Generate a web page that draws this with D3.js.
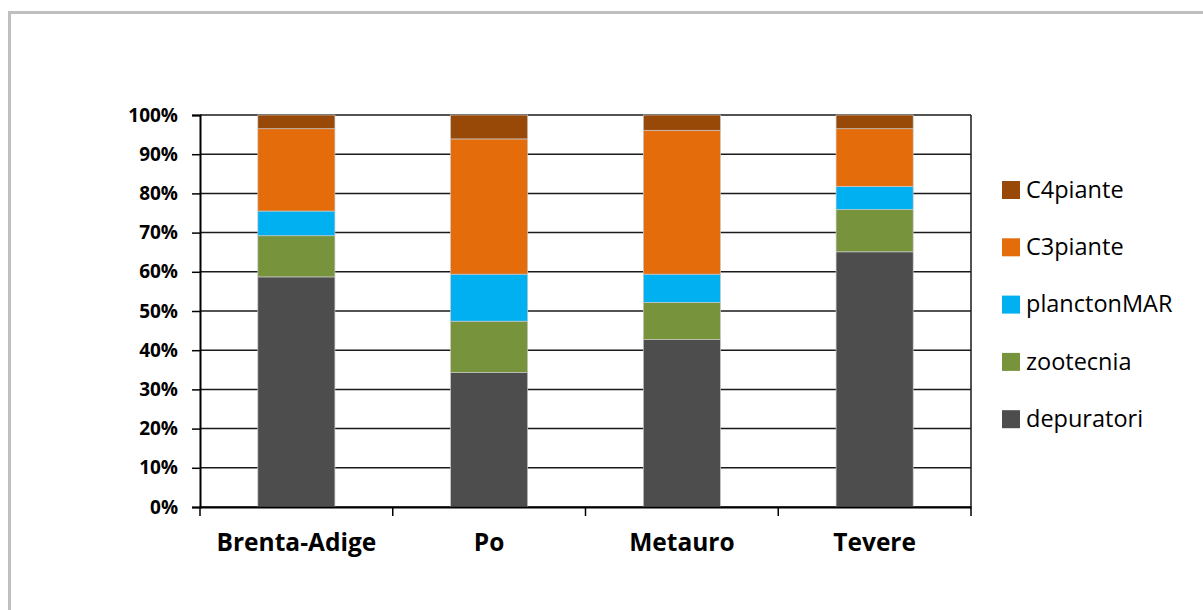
<!DOCTYPE html>
<html>
<head>
<meta charset="utf-8">
<script src="https://cdn.jsdelivr.net/npm/d3@7"></script>
<style>
  body { margin: 0; background: #fff; }
  svg { display: block; }
</style>
</head>
<body>
<svg width="1203" height="610"></svg>
<script>
const rivers = ["Brenta-Adige", "Po", "Metauro", "Tevere"];
const sources = ["depuratori", "zootecnia", "planctonMAR", "C3piante", "C4piante"];
const colors = ["#4d4d4d", "#77933c", "#00b0f0", "#e46c0a", "#984807"];

// percent shares per river, same order as sources
const depuratori = [58.7, 34.3, 42.7, 65.1];
const zootecnia = [10.5, 13.1, 9.5, 10.8];
const planctonMAR = [6.3, 12.0, 7.2, 5.9];
const C3piante = [21.0, 34.5, 36.7, 14.7];
const C4piante = [3.5, 6.1, 3.9, 3.5];

const yTicks = [0, 10, 20, 30, 40, 50, 60, 70, 80, 90, 100];

const svg = d3.select("svg");
const width = +svg.attr("width");
const height = +svg.attr("height");

// outer chart frame (runs off the right and bottom edges)
svg.append("rect")
    .attr("x", 9.5).attr("y", 12.5)
    .attr("width", width + 20).attr("height", height + 20)
    .attr("fill", "none")
    .attr("stroke", "#bfbfbf")
    .attr("stroke-width", 3);

const plotL = 200, plotR = 971, plotT = 115, plotB = 507;

const x = d3.scaleBand().domain(rivers).range([plotL, plotR]).padding(0);
const y = d3.scaleLinear().domain([0, 100]).range([plotB, plotT]);

const table = rivers.map((r, i) => ({
    river: r,
    depuratori: depuratori[i],
    zootecnia: zootecnia[i],
    planctonMAR: planctonMAR[i],
    C3piante: C3piante[i],
    C4piante: C4piante[i]
}));
const stack = d3.stack().keys(sources);
const series = stack(table);

// gridlines
svg.append("g")
    .selectAll("line")
    .data(yTicks)
    .enter()
    .append("line")
    .attr("x1", plotL).attr("x2", plotR)
    .attr("y1", d => y(d)).attr("y2", d => y(d))
    .attr("stroke", "#1a1a1a")
    .attr("stroke-width", 1.5);

// bars
const barW = x.bandwidth() * 0.4;
svg.append("g")
    .selectAll("g")
    .data(series)
    .enter()
    .append("g")
    .attr("fill", (d, i) => colors[i])
    .selectAll("rect")
    .data(d => d)
    .enter()
    .append("rect")
    .attr("x", d => x(d.data.river) + (x.bandwidth() - barW) / 2)
    .attr("width", barW)
    .attr("y", d => y(d[1]))
    .attr("height", d => y(d[0]) - y(d[1]))
    .attr("stroke", "#c8c8c8")
    .attr("stroke-width", 0.7);

// plot border on the right
svg.append("line")
    .attr("x1", plotR).attr("x2", plotR)
    .attr("y1", plotT).attr("y2", plotB)
    .attr("stroke", "#1a1a1a").attr("stroke-width", 1.5);

// y axis
const yAxis = svg.append("g")
    .attr("transform", `translate(${plotL},0)`)
    .call(d3.axisLeft(y).tickValues(yTicks).tickSize(8).tickPadding(14).tickFormat(d => d + "%"));
yAxis.select(".domain").attr("stroke", "#000").attr("stroke-width", 2);
yAxis.selectAll(".tick line").attr("stroke", "#000").attr("stroke-width", 1.5);
yAxis.selectAll("text")
    .attr("font-family", "'Open Sans', sans-serif")
    .attr("font-weight", "bold")
    .attr("font-size", 19)
    .attr("fill", "#000");

// x axis
const xAxis = svg.append("g")
    .attr("transform", `translate(0,${plotB})`)
    .call(d3.axisBottom(x).tickSize(0).tickPadding(27));
xAxis.select(".domain").attr("stroke", "#000").attr("stroke-width", 2);
xAxis.selectAll("text")
    .attr("font-family", "'Open Sans', sans-serif")
    .attr("font-weight", "bold")
    .attr("font-size", 24.5)
    .attr("fill", "#000");

// category separators below axis
const sepX = rivers.map(r => x(r)).concat([plotR]);
svg.append("g")
    .selectAll("line")
    .data(sepX)
    .enter()
    .append("line")
    .attr("x1", d => d).attr("x2", d => d)
    .attr("y1", plotB).attr("y2", plotB + 9)
    .attr("stroke", "#000").attr("stroke-width", 1.5);

// legend, top entry is the last series
const legendItems = sources.slice().reverse();
const legend = svg.append("g")
    .selectAll("g")
    .data(legendItems)
    .enter()
    .append("g")
    .attr("transform", (d, i) => `translate(1002,${190 + i * 57.3})`);

legend.append("rect")
    .attr("x", 0).attr("y", -9)
    .attr("width", 18).attr("height", 18)
    .attr("fill", d => colors[sources.indexOf(d)]);

legend.append("text")
    .attr("x", 24)
    .attr("dy", "0.33em")
    .attr("font-family", "'Open Sans', sans-serif")
    .attr("font-size", 23.5)
    .attr("fill", "#000")
    .text(d => d);
</script>
</body>
</html>
